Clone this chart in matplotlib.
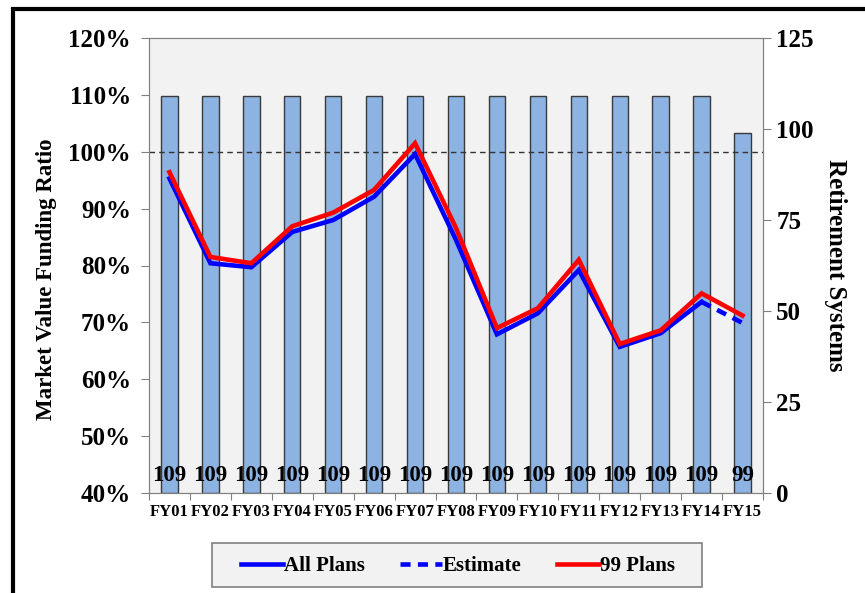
import matplotlib.pyplot as plt
from matplotlib.patches import Rectangle
from matplotlib.lines import Line2D

plt.rcParams['font.family'] = ['Liberation Serif', 'DejaVu Serif']
plt.rcParams['font.weight'] = 'bold'

years = ['FY01', 'FY02', 'FY03', 'FY04', 'FY05', 'FY06', 'FY07', 'FY08',
         'FY09', 'FY10', 'FY11', 'FY12', 'FY13', 'FY14', 'FY15']
systems = [109, 109, 109, 109, 109, 109, 109, 109, 109, 109, 109, 109, 109, 109, 99]
all_plans = [95.3, 80.4, 79.7, 85.9, 88.0, 92.1, 99.6, 84.5, 67.9, 71.6, 79.2, 65.7, 68.1, 73.6]
estimate = [73.6, 69.9]
plans_99 = [96.4, 81.5, 80.4, 86.9, 89.3, 93.3, 101.5, 86.6, 69.0, 72.5, 81.0, 66.2, 68.6, 75.1, 71.2]

fig = plt.figure(figsize=(8.65, 5.93), dpi=100)
fig.patch.set_facecolor('white')
# frame line, only top and left edges fall inside the canvas
fig.patches.append(Rectangle((12.5 / 865, -0.1), 1.2, 1.1 - 8.5 / 593, transform=fig.transFigure,
                             fill=False, edgecolor='black', linewidth=3, clip_on=False))
# legend box
fig.patches.append(Rectangle((212 / 865, 1 - 587 / 593), 490 / 865, 44 / 593,
                             transform=fig.transFigure, facecolor='#f2f2f2',
                             edgecolor='#808080', linewidth=1.2))

ax = fig.add_axes([149 / 865, 1 - 493 / 593, 614 / 865, 455 / 593])
ax2 = ax.twinx()
ax.set_zorder(ax2.get_zorder() + 1)
ax.patch.set_visible(False)
ax2.patch.set_visible(True)
ax2.patch.set_facecolor('#f2f2f2')

x = list(range(len(years)))
ax2.bar(x, systems, width=0.4, color='#8db3e2', edgecolor='#3a3a3a', linewidth=1.0)
for i, v in enumerate(systems):
    ax2.text(i, 4.7, str(v), ha='center', va='center', fontsize=16.5, fontweight='bold')
ax2.set_ylim(0, 125)
ax2.set_yticks([0, 25, 50, 75, 100, 125])
ax2.set_ylabel('Retirement Systems', fontsize=18, fontweight='bold', rotation=270, labelpad=24)

ax.axhline(100, color='#333333', linestyle=(0, (4, 3)), linewidth=1.0)
ax.plot(x[:14], all_plans, color='blue', linewidth=3.3, solid_joinstyle='miter')
ax.plot(x[13:], estimate, color='blue', linewidth=3.3, linestyle=(0, (2.2, 1.6)))
ax.plot(x, plans_99, color='red', linewidth=3.3, solid_joinstyle='miter')

ax.set_xlim(-0.5, 14.5)
ax.set_ylim(40, 120)
ax.set_yticks(range(40, 121, 10))
ax.set_yticklabels([f'{v}%' for v in range(40, 121, 10)])
ax.set_xticks([i - 0.5 for i in range(16)])
ax.set_xticklabels([])
ax.set_xticks(x, minor=True)
ax.set_xticklabels(years, minor=True, fontsize=12, fontweight='bold')
ax.tick_params(axis='x', which='minor', length=0, pad=8)
ax.tick_params(axis='x', which='major', length=5, color='#808080')
ax.set_ylabel('Market Value Funding Ratio', fontsize=16.5, fontweight='bold')
ax.yaxis.set_label_coords(-0.15, 0.47)

for a in (ax, ax2):
    a.tick_params(axis='y', labelsize=18, color='#808080', length=6)
    for s in a.spines.values():
        s.set_color('#808080')
ax.tick_params(axis='y', pad=7)
ax2.tick_params(axis='x', length=0)

handles = [Line2D([], [], color='blue', linewidth=3.3),
           Line2D([], [], color='blue', linewidth=3.3, linestyle=(0, (2.2, 1.6))),
           Line2D([], [], color='red', linewidth=3.3)]
leg = fig.legend(handles, ['All Plans', 'Estimate', '99 Plans'], ncol=3,
                 loc='center', bbox_to_anchor=(458 / 865, 1 - 566 / 593),
                 fontsize=15, frameon=False, handlelength=2.0,
                 handletextpad=0.05, columnspacing=1.7)

fig.savefig('out.png', dpi=100)
